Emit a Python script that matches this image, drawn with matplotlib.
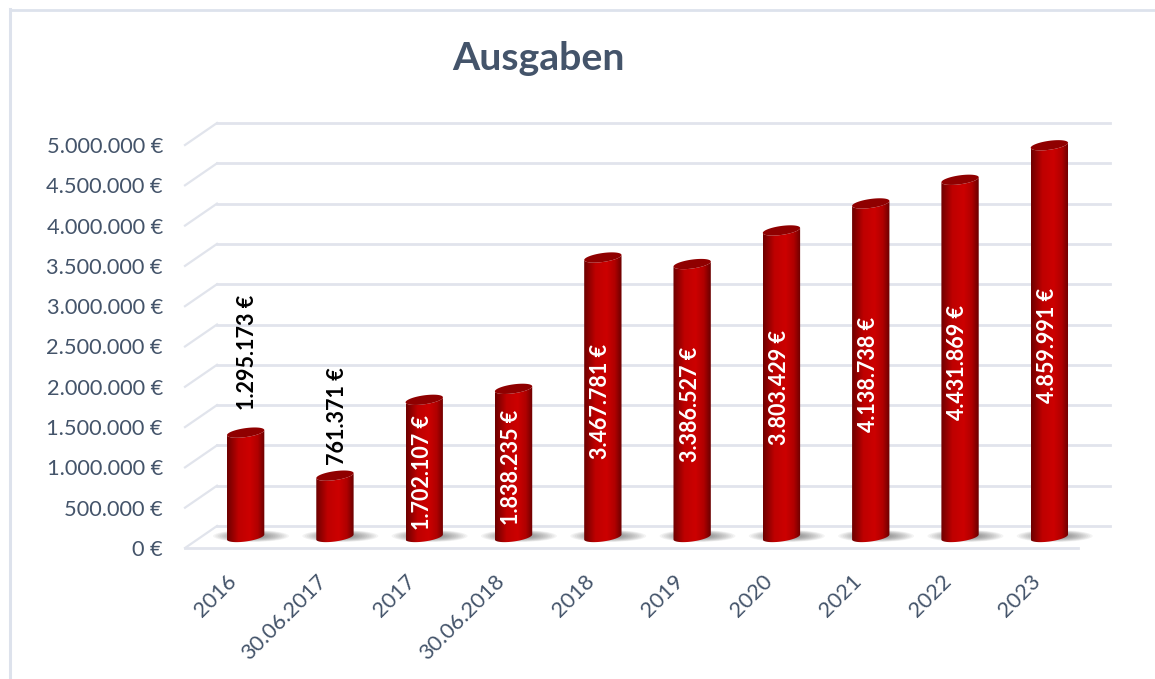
import numpy as np
import matplotlib
matplotlib.use("Agg")
import matplotlib.pyplot as plt
from matplotlib.colors import LinearSegmentedColormap
from matplotlib.patches import Polygon, Ellipse
from matplotlib.transforms import offset_copy, ScaledTranslation

categories = ["2016", "30.06.2017", "2017", "30.06.2018", "2018",
              "2019", "2020", "2021", "2022", "2023"]
values = [1295173, 761371, 1702107, 1838235, 3467781,
          3386527, 3803429, 4138738, 4431869, 4859991]
value_labels = ["1.295.173 €", "761.371 €", "1.702.107 €", "1.838.235 €", "3.467.781 €",
                "3.386.527 €", "3.803.429 €", "4.138.738 €", "4.431.869 €", "4.859.991 €"]
y_ticks = [0, 500000, 1000000, 1500000, 2000000, 2500000,
           3000000, 3500000, 4000000, 4500000, 5000000]
y_tick_labels = ["0 €", "500.000 €", "1.000.000 €", "1.500.000 €", "2.000.000 €", "2.500.000 €",
                 "3.000.000 €", "3.500.000 €", "4.000.000 €", "4.500.000 €", "5.000.000 €"]

W, H = 1155, 679
TEXT = "#44546A"
GRID = "#E1E4EC"
plt.rcParams["font.family"] = ["Lato", "DejaVu Sans"]

fig = plt.figure(figsize=(W / 100, H / 100), dpi=100)
# 0 sits at pixel row 537, the middle of the 3d floor
ax = fig.add_axes([201 / W, (H - 537) / H, 893 / W, 403 / H])
ax.set_xlim(-0.5, 9.5)
ax.set_ylim(0, 5000000)
ax.patch.set_visible(False)
for s in ax.spines.values():
    s.set_visible(False)

# frame of the pasted chart
fig.add_artist(plt.Line2D([9.5 / W, 9.5 / W], [0, (H - 9) / H], color="#DDE2EC", lw=2.2))
fig.add_artist(plt.Line2D([9.5 / W, 1], [(H - 10) / H, (H - 10) / H], color="#DDE2EC", lw=2))

# depth of the walls
back = offset_copy(ax.transData, fig, x=16, y=11, units="dots")
front = offset_copy(ax.transData, fig, x=-16, y=-11, units="dots")
per_px = 5000000 / 403
for v in y_ticks:
    ax.plot([-0.5, 9.5], [v, v], color=GRID, lw=2, transform=back, clip_on=False, zorder=1)
    # side wall diagonal
    ax.plot([-0.5 - 32 / 89.3, -0.5], [v - 22 * per_px, v], color=GRID, lw=1.6,
            transform=back, clip_on=False, zorder=1)
ax.plot([-0.5, 9.5], [0, 0], color=GRID, lw=2, transform=front, clip_on=False, zorder=1)

cmap = LinearSegmentedColormap.from_list("cyl", [
    (0.0, "#6E0000"), (0.12, "#8E0000"), (0.3, "#BE0000"), (0.6, "#CC0000"),
    (0.82, "#B00000"), (1.0, "#6A0000")])
grad = np.linspace(0, 1, 64).reshape(1, -1)

a = 0.209
b = 4.5 * per_px
tilt = 2.5 * per_px


def ellipse_xy(i, v, t):
    return np.column_stack([i + a * np.cos(t), v + b * np.sin(t) + tilt * np.cos(t)])


for i, v in enumerate(values):
    # floor shadow
    for k in range(12):
        ax.add_patch(Ellipse((i + 0.06, 1 * per_px), 0.85 - 0.05 * k, (12 - 0.7 * k) * per_px,
                             color="#444444", alpha=0.06, lw=0, zorder=2, clip_on=False))
    body = np.vstack([ellipse_xy(i, 0, np.linspace(0, -np.pi, 40)),
                      ellipse_xy(i, v, np.linspace(-np.pi, 0, 40))])
    poly = Polygon(body, closed=True, fc="none", ec="none", transform=ax.transData, clip_on=False)
    ax.add_patch(poly)
    im = ax.imshow(grad, cmap=cmap, aspect="auto", zorder=3,
                   extent=[i - a, i + a, -b * 2, v + b * 2])
    # images get cut at the axes box otherwise, the round foot hangs below 0
    im.set_clip_box(fig.bbox)
    im.set_clip_path(poly)
    ax.add_patch(Polygon(ellipse_xy(i, v, np.linspace(0, 2 * np.pi, 60)), closed=True,
                         fc="#8F0000", ec="none", zorder=4, clip_on=False))

ax.set_xlim(-0.5, 9.5)
ax.set_ylim(0, 5000000)

# first two labels sit above the bar, the others inside
gap_px = [23, 11]
gap_dx = [1, 2]
for i, (v, lab) in enumerate(zip(values, value_labels)):
    if i < len(gap_px):
        ax.annotate(lab, (i, v), xytext=(gap_dx[i], gap_px[i] * 0.72), textcoords="offset points",
                    rotation=90, ha="center", va="bottom", color="black", fontsize=15.5,
                    fontweight="bold", zorder=5)
    else:
        ax.annotate(lab, (i, v / 2), xytext=(-1.5, -3), textcoords="offset points",
                    rotation=90, ha="center", va="center", color="white", fontsize=15.5,
                    fontweight="bold", zorder=5)

ax.set_yticks(y_ticks)
ax.set_yticklabels(y_tick_labels, fontsize=15.7, color=TEXT)
ax.tick_params(axis="y", length=0, pad=0)
y_shift = ScaledTranslation(-38 / 100, -11 / 100, fig.dpi_scale_trans)
for lab in ax.get_yticklabels():
    lab.set_transform(lab.get_transform() + y_shift)

ax.set_xticks(range(len(categories)))
ax.set_xticklabels(categories, fontsize=15.7, color=TEXT, rotation=45, ha="right",
                   va="top", rotation_mode="anchor")
ax.tick_params(axis="x", length=0, pad=0)
x_shift = ScaledTranslation(-19 / 100, -34 / 100, fig.dpi_scale_trans)
for lab in ax.get_xticklabels():
    lab.set_transform(lab.get_transform() + x_shift)

fig.text(538 / W, (H - 58) / H, "Ausgaben", ha="center", va="center", color=TEXT,
         fontsize=28.3, fontweight="bold")

fig.savefig("out.png", dpi=100, facecolor="white")
